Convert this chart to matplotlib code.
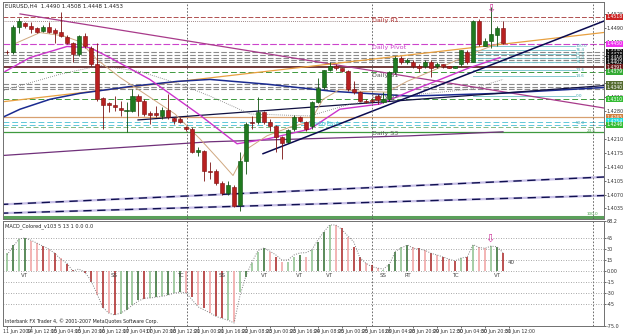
import matplotlib
matplotlib.use("Agg")
import matplotlib.pyplot as plt
import matplotlib.transforms as mtransforms

# ---------------- data ----------------
opens = [1.4430,1.4428,1.4493,1.4503,1.4495,1.4490,1.4483,1.4493,1.4485,1.4480,
         1.4468,1.4453,1.4423,1.4470,1.4440,1.4398,1.4313,1.4300,1.4295,1.4288,
         1.4280,1.4280,1.4318,1.4305,1.4275,1.4275,1.4268,1.4283,1.4263,1.4260,
         1.4240,1.4235,1.4178,1.4180,1.4130,1.4130,1.4098,1.4075,1.4090,1.4043,
         1.4155,1.4253,1.4253,1.4278,1.4253,1.4243,1.4215,1.4203,1.4235,1.4265,
         1.4253,1.4243,1.4303,1.4340,1.4383,1.4395,1.4388,1.4380,1.4335,1.4328,
         1.4305,1.4308,1.4318,1.4303,1.4310,1.4378,1.4415,1.4403,1.4405,1.4393,
         1.4393,1.4405,1.4393,1.4398,1.4393,1.4390,1.4398,1.4430,1.4405,1.4508,
         1.4445,1.4458,1.4473,1.4490]
highs = [1.4435,1.4498,1.4515,1.4505,1.4505,1.4493,1.4498,1.4505,1.4490,1.4530,
         1.4473,1.4455,1.4473,1.4478,1.4443,1.4453,1.4315,1.4303,1.4318,1.4305,
         1.4303,1.4335,1.4323,1.4310,1.4280,1.4293,1.4290,1.4323,1.4265,1.4265,
         1.4243,1.4240,1.4190,1.4183,1.4153,1.4135,1.4103,1.4105,1.4093,1.4178,
         1.4253,1.4268,1.4315,1.4280,1.4260,1.4245,1.4218,1.4235,1.4270,1.4268,
         1.4255,1.4305,1.4363,1.4385,1.4403,1.4398,1.4390,1.4385,1.4355,1.4330,
         1.4310,1.4313,1.4323,1.4328,1.4380,1.4418,1.4418,1.4415,1.4410,1.4398,
         1.4410,1.4408,1.4403,1.4400,1.4395,1.4395,1.4435,1.4435,1.4510,1.4513,
         1.4465,1.4542,1.4495,1.4508]
lows = [1.4425,1.4423,1.4478,1.4490,1.4478,1.4478,1.4480,1.4478,1.4453,1.4468,
        1.4448,1.4403,1.4418,1.4440,1.4393,1.4305,1.4235,1.4278,1.4280,1.4268,
        1.4228,1.4278,1.4268,1.4268,1.4248,1.4265,1.4260,1.4260,1.4248,1.4250,
        1.4230,1.4175,1.4168,1.4103,1.4110,1.4093,1.4068,1.4068,1.4038,1.4028,
        1.4123,1.4235,1.4248,1.4248,1.4230,1.4178,1.4160,1.4200,1.4230,1.4253,
        1.4230,1.4235,1.4300,1.4335,1.4380,1.4385,1.4378,1.4330,1.4323,1.4303,
        1.4300,1.4300,1.4298,1.4300,1.4305,1.4373,1.4398,1.4398,1.4390,1.4378,
        1.4390,1.4365,1.4390,1.4390,1.4388,1.4388,1.4393,1.4398,1.4403,1.4443,
        1.4443,1.4440,1.4443,1.4448]
closes = [1.4428,1.4493,1.4508,1.4495,1.4488,1.4480,1.4493,1.4480,1.4478,1.4470,
          1.4453,1.4423,1.4470,1.4443,1.4398,1.4310,1.4295,1.4295,1.4290,1.4283,
          1.4283,1.4318,1.4305,1.4273,1.4270,1.4270,1.4283,1.4265,1.4255,1.4253,
          1.4235,1.4178,1.4183,1.4130,1.4128,1.4098,1.4073,1.4093,1.4040,1.4155,
          1.4248,1.4250,1.4278,1.4253,1.4243,1.4215,1.4200,1.4233,1.4265,1.4255,
          1.4235,1.4303,1.4338,1.4383,1.4395,1.4388,1.4380,1.4335,1.4328,1.4305,
          1.4303,1.4305,1.4308,1.4310,1.4378,1.4415,1.4403,1.4408,1.4393,1.4390,
          1.4405,1.4388,1.4400,1.4393,1.4390,1.4393,1.4433,1.4405,1.4508,1.4448,
          1.4458,1.4475,1.4490,1.4453]

macd = [24.6,35.5,43.7,45.0,40.9,38.2,34.1,30.0,24.6,17.7,
        9.5,1.4,0.3,-2.7,-15.0,-32.7,-50.5,-57.3,-60.0,-58.7,
        -53.2,-46.4,-39.6,-38.0,-37.0,-35.5,-34.1,-32.7,-30.0,-28.6,
        -30.0,-35.5,-46.4,-50.5,-57.3,-61.4,-64.1,-66.8,-69.6,-28.6,
        -8.2,10.9,25.9,31.4,25.9,19.1,12.3,12.3,19.1,21.8,
        19.1,28.6,39.6,53.2,62.8,62.8,58.7,46.4,32.7,19.1,
        10.9,8.2,4.1,1.4,9.5,25.9,32.7,35.5,32.7,31.4,
        28.6,24.6,21.8,19.1,16.4,13.6,17.7,19.1,35.5,32.7,
        31.4,34.1,32.7,24.6]
macd_kind = list("gGgGrrRrRr" "RRrRRrRrRg" "GgGRgGgGgG" "rRrRrRRgrg" "GggGrRrggG"
                 "rgGGgrRrRR" "rRrgGGgGrR" "rRrRrRgRgr" "rgGR")
signal = [22.0,33.0,43.7,45.0,42.0,38.0,34.0,30.0,24.0,16.0,
          10.9,0.0,2.7,-1.4,-12.3,-30.0,-49.0,-57.3,-60.0,-57.3,
          -53.0,-46.4,-41.0,-37.0,-36.8,-35.5,-34.5,-32.7,-30.0,-28.6,
          -30.0,-39.6,-49.0,-53.0,-57.3,-62.0,-64.8,-67.0,-70.9,-33.0,
          -6.0,12.0,28.0,31.4,27.0,21.8,15.0,15.0,21.8,24.6,
          25.0,28.6,42.0,53.2,62.8,62.8,57.0,48.0,40.0,19.0,
          10.9,6.0,4.0,2.7,9.5,27.0,31.4,35.5,31.0,30.0,
          28.0,24.0,21.8,19.0,16.0,14.0,17.7,19.0,36.0,32.0,
          31.0,34.0,33.0,25.0]
wave_labels = ["VT", "SS", "TC", "SS", "VT", "VT", "VT", "SS", "RT", "TC", "VT"]
wave_idx = [3, 18, 29, 36, 43, 49, 54, 63, 67, 75, 82]

date_labels = ["11 Jun 2009", "14 Jun 12:00", "15 Jun 04:00", "15 Jun 20:00", "16 Jun 12:00",
               "17 Jun 04:00", "17 Jun 20:00", "18 Jun 12:00", "21 Jun 00:00", "21 Jun 16:00",
               "22 Jun 08:00", "23 Jun 00:00", "23 Jun 16:00", "24 Jun 08:00", "25 Jun 00:00",
               "25 Jun 16:00", "28 Jun 04:00", "28 Jun 20:00", "29 Jun 12:00", "30 Jun 04:00",
               "30 Jun 20:00", "31 Jun 12:00"]

# indicator / drawing lines (bar index, price)
ma_fast_x = [1.0, 5.52, 9.37, 12.22, 15.06, 18.91, 23.93, 28.11, 32.30, 35.64, 37.82, 40.16,
             43.51, 47.36, 50.70, 52.88, 55.72, 59.07, 63.59, 66.93, 72.46, 78.65, 83.0]
ma_fast_y = [1.4448, 1.4478, 1.4470, 1.4455, 1.4410, 1.4365, 1.4315, 1.4273, 1.4210, 1.4155,
             1.4118, 1.4185, 1.4218, 1.4240, 1.4253, 1.4310, 1.4335, 1.4330, 1.4328, 1.4355,
             1.4390, 1.4430, 1.4455]
ma_mid_x = [-0.33, 3.85, 10.04, 13.9, 17.2, 23.9, 32.3, 38.5, 43.5, 50.7, 55.7, 62.4, 67.4,
            72.5, 77.5, 82.5]
ma_mid_y = [1.4380, 1.4415, 1.4443, 1.4440, 1.4415, 1.4360, 1.4270, 1.4198, 1.4210, 1.4235,
            1.4285, 1.4298, 1.4330, 1.4360, 1.4390, 1.4415]
ma_navy_x = [-0.67, 2.18, 7.20, 12.22, 21.08, 28.45, 33.97, 43.51, 54.55, 67.44, 82.50, 100.4]
ma_navy_y = [1.4265, 1.4285, 1.4310, 1.4325, 1.4343, 1.4355, 1.4360, 1.4348, 1.4330, 1.4318,
             1.4325, 1.4340]
ma_slow_x = [-1.17, 15.56, 33.97, 49.03, 67.44, 83.0]
ma_slow_y = [1.4168, 1.4185, 1.4203, 1.4210, 1.4218, 1.4228]
zz_x = [-1.17, 8.87, 15.56, 22.26, 28.95, 33.97, 40.66, 50.70, 57.40, 69.11, 77.48, 83.0]
zz_y = [1.4330, 1.4373, 1.4395, 1.4380, 1.4348, 1.4318, 1.4273, 1.4268, 1.4298, 1.4323,
        1.4335, 1.4360]

trend_down = ([2.18, 99.9], [1.4525, 1.4288])
trend_orange = ([-1.17, 100.9], [1.4303, 1.4480])
trend_steep = ([42.84, 100.4], [1.4173, 1.4510])
trend_dark = ([21.92, 100.4], [1.4258, 1.4345])
chan_upper = ([-1.17, 100.9], [1.4045, 1.4115])
chan_lower = ([-1.17, 100.9], [1.4023, 1.4068])

pivot_levels = [1.4518, 1.4450, 1.4379, 1.4310, 1.4228]
pivot_names = ["Daily R1", "Daily Pivot", "Daily S1", "Daily S2", "Daily S3"]
grey_levels = [1.4428, 1.4421, 1.4415, 1.4409, 1.4403, 1.4348, 1.4340, 1.4335]
fib_levels = [1.4443, 1.4433, 1.4423, 1.4413, 1.4403, 1.4385, 1.4368, 1.4318]
fib_names = ["100.0", "76.4", "61.8", "50.0", "38.2", "23.6", "14.6", "0.0"]
separators = [30.1, 61.1, 98.1]

price_ticks = [1.4035, 1.4070, 1.4105, 1.4140, 1.4175, 1.4210, 1.4245, 1.4280,
               1.4315, 1.4350, 1.4385, 1.4420, 1.4455, 1.4490, 1.4525]
macd_ticks = [68.2, 45, 30, 15, 0, -15, -30, -45, -75.0]
macd_tick_labels = ["68.2", "45", "30", "15", "0.00", "-15", "-30", "-45", "-75.0"]

# ---------------- figure ----------------
W, H = 625, 335
fig = plt.figure(figsize=(W / 100, H / 100), dpi=100)
fig.patch.set_facecolor("white")

def box(l, t, r, b):
    return [l / W, 1 - b / H, (r - l) / W, (b - t) / H]

ax = fig.add_axes(box(3, 2, 604, 219))
ax2 = fig.add_axes(box(3, 221, 604, 326), sharex=ax)

ax.set_xlim(-0.67, 99.9)
ax.set_ylim(1.40085, 1.4555)
ax2.set_ylim(-75.0, 68.2)

for a in (ax, ax2):
    for s in a.spines.values():
        s.set_color("#707070")
        s.set_linewidth(0.7)
    a.yaxis.tick_right()
    a.tick_params(axis="y", labelsize=3.5, length=1.5, width=0.5, pad=0.6, colors="#333333")

# horizontal levels
ax.axhline(1.4518, color="#b05050", lw=0.7, ls=(0, (5, 2)))
ax.axhline(1.4508, color="#806060", lw=0.6, ls=(0, (1, 1.5)))
ax.axhline(1.4450, color="#cc44cc", lw=0.8, ls=(0, (6, 2)))
for gl in grey_levels:
    ax.axhline(gl, color="#8a8a8a", lw=0.8, ls=(0, (5, 2)))
ax.axhline(1.4391, color="#5a1818", lw=1.2)
ax.axhline(1.4379, color="#3f9a3f", lw=0.7, ls=(0, (6, 3)))
ax.axhline(1.4310, color="#3f9a3f", lw=0.7, ls=(0, (6, 3)))
ax.axhline(1.4265, color="#d8a070", lw=0.9)
ax.axhline(1.4253, color="#60c8d8", lw=0.7, ls=(0, (6, 3)))
ax.axhline(1.4246, color="#60c8d8", lw=0.7, ls=(0, (6, 3)))
ax.axhline(1.4240, color="#70b070", lw=0.6, ls=(0, (6, 3)))
ax.axhline(1.4228, color="#3f9a3f", lw=0.9)
ax.axhline(1.4014, color="#5aa05a", lw=2.2)

# fib-like short levels
for fl, fn in zip(fib_levels, fib_names):
    ax.plot([78, 95], [fl, fl], color="#70c0c8", lw=0.6)
    ax.text(95.2, fl, fn, fontsize=3.0, color="#40a8b0", va="center")
ax.text(95.2, 1.4250, "50.0", fontsize=3.0, color="#40a8b0", va="center")
ax.text(97.0, 1.4231, "23.6", fontsize=3.0, color="#3f9a3f", va="center")
ax.text(97.0, 1.4022, "100.0", fontsize=3.0, color="#3f9a3f", va="center")

# pivot labels
pcolors = ["#b03030", "#cc44cc", "#555555", "#555555", "#555555"]
poffs = [-0.0010, -0.0010, -0.0009, 0.0007, -0.0005]
for lv, nm, c, o in zip(pivot_levels, pivot_names, pcolors, poffs):
    ax.text(61.1, lv + o, nm, fontsize=4.6, color=c, va="center")
ax.text(50.5, 1.4250, "WeeklyPivot", fontsize=3.6, color="#40c0d0", va="center")

# trend / channel lines
ax.plot(*chan_upper, color="#c8c0e8", lw=1.6)
ax.plot(*chan_upper, color="#101050", lw=1.0, ls=(0, (6, 4)))
ax.plot(*chan_lower, color="#c8c0e8", lw=1.6)
ax.plot(*chan_lower, color="#101050", lw=1.0, ls=(0, (6, 4)))
ax.plot(ma_slow_x, ma_slow_y, color="#70307a", lw=0.9)
ax.plot(*trend_down, color="#a83a8a", lw=0.9)
ax.plot(*trend_orange, color="#e8a040", lw=0.9)
ax.plot(ma_navy_x, ma_navy_y, color="#1a2a90", lw=1.1)
ax.plot(*trend_dark, color="#101040", lw=0.9)
ax.plot(zz_x, zz_y, color="#777777", lw=0.6, ls=(0, (1, 1.5)))
ax.plot(ma_mid_x, ma_mid_y, color="#cc33cc", lw=1.0)
ax.plot(ma_fast_x, ma_fast_y, color="#d0a880", lw=0.7)
ax.plot(*trend_steep, color="#0a0a50", lw=1.1)

# separators
for sx in separators:
    ax.axvline(sx, color="#555555", lw=0.6, ls=(0, (2, 2)))
    ax2.axvline(sx, color="#555555", lw=0.6, ls=(0, (2, 2)))

# candles
idx = list(range(len(opens)))
for i, o, h, l, c in zip(idx, opens, highs, lows, closes):
    up = c >= o
    face = "#1f7a1f" if up else "#b82020"
    edge = "#0d4d0d" if up else "#7a1010"
    ax.vlines(i, l, h, color=edge, lw=0.6, zorder=4)
    ax.bar(i, max(abs(c - o), 0.00012), bottom=min(o, c), width=0.68,
           color=face, edgecolor=edge, linewidth=0.4, zorder=5)

ax.text(81, 1.4538, "\u21e9", fontsize=8, color="#cc3399", ha="center", va="center", zorder=6)

# right side price boxes
tb = mtransforms.blended_transform_factory(ax.transAxes, ax.transData)
boxes = [(1.4518, "#cc2222"), (1.4450, "#ee33ee"), (1.4430, "#111111"), (1.4423, "#111111"),
         (1.4416, "#111111"), (1.4409, "#111111"), (1.4402, "#111111"), (1.4391, "#6b1a1a"),
         (1.4379, "#33aa33"), (1.4348, "#556b2f"), (1.4340, "#556b2f"), (1.4310, "#33bb33"),
         (1.4265, "#d08040"), (1.4254, "#22dddd"), (1.4246, "#33bb33")]
for pv, fc in boxes:
    ax.text(1.004, pv, f"{pv:.4f}", transform=tb, fontsize=3.3, color="white", va="center",
            ha="left", bbox=dict(boxstyle="square,pad=0.12", fc=fc, ec="none"),
            zorder=10, clip_on=False)

ax.set_yticks(price_ticks)
ax.set_yticklabels([f"{v:.4f}" for v in price_ticks])
ax.tick_params(axis="x", bottom=False, labelbottom=False)

ax.text(0.004, 0.992, "EURUSD,H4  1.4490 1.4508 1.4448 1.4453", transform=ax.transAxes,
        fontsize=4.0, va="top", color="#222222")

# MACD panel
mcol = {"G": "#2d6b2d", "g": "#8cc08c", "R": "#a82020", "r": "#f0a0a0"}
for lv in [45, 30, 15, 0, -15, -30, -45]:
    ax2.axhline(lv, color="#8a8a8a", lw=0.6, ls=(0, (1, 2)))
ax2.vlines(idx, 0, macd, colors=[mcol[k] for k in macd_kind], lw=1.1)
ax2.plot(idx, signal, color="#808080", lw=0.7, ls=(0, (1, 1.5)))
for t, wi in zip(wave_labels, wave_idx):
    ax2.text(wi, -2.5, t, fontsize=4.0, color="#444444", ha="center", va="top")
ax2.text(83.8, 11, "40", fontsize=4.0, color="#444444", va="center")
ax2.text(80.8, 44, "\u21e9", fontsize=8, color="#cc3399", ha="center", va="center")
ax2.text(0.004, 0.975, "MACD_Colored_v103 5 13 1 0.0 0.0", transform=ax2.transAxes,
         fontsize=3.6, va="top", color="#222222")
ax2.text(0.004, 0.02, "Interbank FX Trader 4, \u00a9 2001-2007 MetaQuotes Software Corp.",
         transform=ax2.transAxes, fontsize=3.4, va="bottom", color="#222222")

ax2.set_yticks(macd_ticks)
ax2.set_yticklabels(macd_tick_labels)

xt = [4 * k for k in range(len(date_labels))]
ax2.set_xticks(xt)
ax2.set_xticklabels(date_labels)
ax2.tick_params(axis="x", labelsize=3.4, length=1.5, width=0.5, pad=1, colors="#333333")
off = mtransforms.ScaledTranslation(-4 / 100, 0, fig.dpi_scale_trans)
for lab in ax2.get_xticklabels():
    lab.set_ha("left")
    lab.set_transform(lab.get_transform() + off)

fig.savefig("out.png", dpi=100, facecolor="white")
